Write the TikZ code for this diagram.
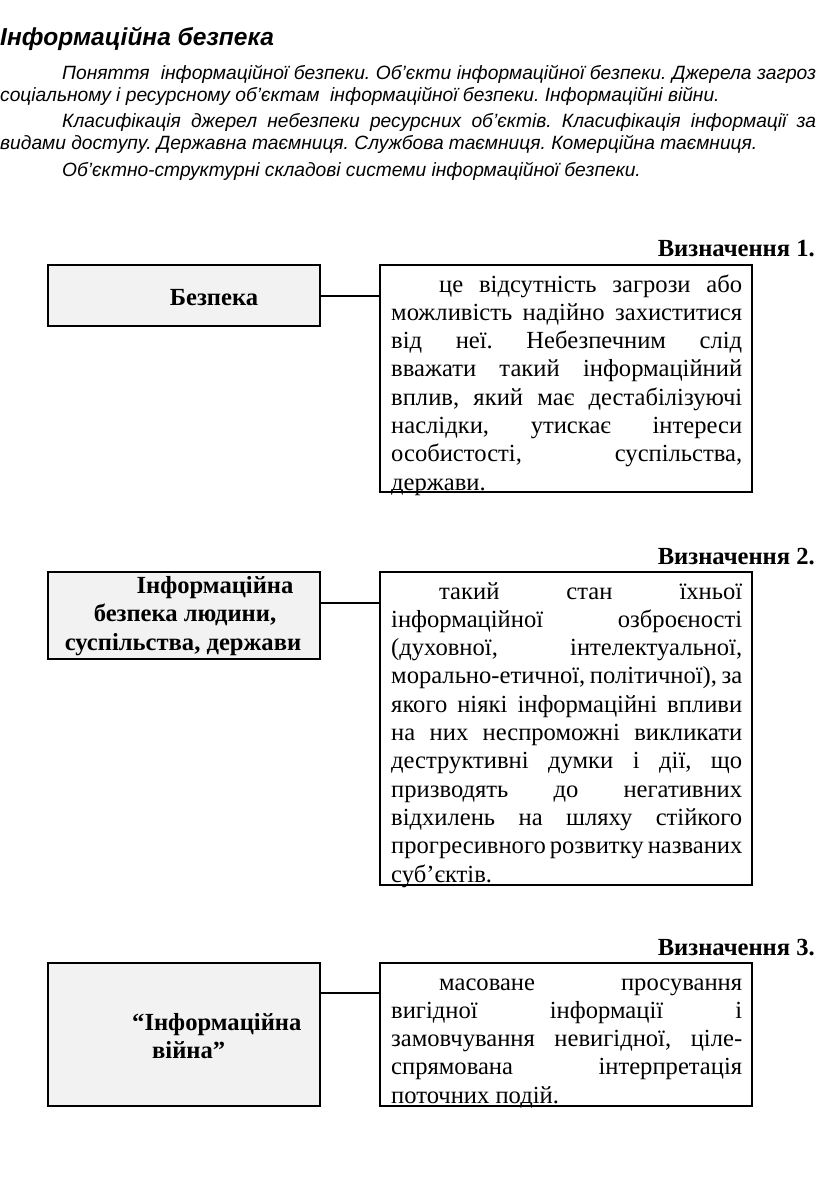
\documentclass[tikz,border=0pt]{standalone}
\usepackage{fontspec}
\setmainfont{Liberation Serif}
\newfontfamily\hdrfont{Liberation Sans}
\definecolor{boxgray}{HTML}{F2F2F2}
\newcommand{\bodyfont}{\fontsize{24.6}{28.3}\selectfont}
\newcommand{\hdrtext}{\hdrfont\itshape\fontsize{19.2}{22}\selectfont}
\newcommand{\jline}[1]{\hbox to 351pt{#1}}
\newcommand{\fline}[1]{\hbox to 351pt{\hskip 48pt #1}}
\frenchspacing
\begin{document}
\frenchspacing
\begin{tikzpicture}[x=1pt,y=-1pt,
  lbox/.style={draw, line width=2pt, fill=boxgray, inner sep=0pt},
  rbox/.style={draw, line width=2pt, fill=white, inner sep=0pt},
  conn/.style={line width=2pt},
  deflabel/.style={anchor=base east, inner sep=0pt, font=\bfseries\fontsize{24.6}{28}\selectfont},
  lefttext/.style={anchor=base, inner sep=0pt, font=\bfseries\fontsize{24.6}{28}\selectfont},
  leftwest/.style={anchor=base west, inner sep=0pt, font=\bfseries\fontsize{24.6}{28}\selectfont},
  para/.style={anchor=base west, inner sep=0pt, font=\bodyfont},
  hline/.style={anchor=base west, inner sep=0pt, font=\hdrtext}]
\useasboundingbox (0,0) rectangle (816,1194);
\clip (0,0) rectangle (816,1194);

% header
\node[anchor=base west, inner sep=0pt, font=\hdrfont\bfseries\itshape\fontsize{24.5}{28}\selectfont] (title) at (0,45) {Інформаційна безпека};
\node[hline] (h1) at (62,79) {\hbox to 754pt{Поняття~ інформаційної безпеки. Об’єкти інформаційної безпеки. Джерела загроз}};
\node[hline] (h2) at (0,101) {соціальному і ресурсному об’єктам~ інформаційної безпеки. Інформаційні війни.};
\node[hline] (h3) at (62,127) {\hbox to 754pt{Класифікація джерел небезпеки ресурсних об’єктів. Класифікація інформації за}};
\node[hline] (h4) at (0,149) {видами доступу. Державна таємниця. Службова таємниця. Комерційна таємниця.};
\node[hline] (h5) at (62,176) {Об’єктно-структурні складові системи інформаційної безпеки.};

% definition 1
\node[deflabel] (d1) at (815,256) {Визначення 1.};
\node[lbox, minimum width=272pt, minimum height=61pt] (b1l) at (184,295.5) {};
\node[rbox, minimum width=372pt, minimum height=227pt] (b1r) at (566,378.5) {};
\node[lefttext] (t1l) at (214,305) {Безпека};
\node[para] (t1r) at (391,292) {\vtop{\baselineskip=28.3pt
\fline{це відсутність загрози або}
\jline{можливість надійно захиститися}
\jline{від неї. Небезпечним слід}
\jline{вважати такий інформаційний}
\jline{вплив, який має дестабілізуючі}
\jline{наслідки, утискає інтереси}
\jline{особистості, суспільства,}
\hbox{держави.}}};
\draw[conn] (b1l.east) -- (b1l.east -| b1r.west);

% definition 2
\node[deflabel] (d2) at (815,564) {Визначення 2.};
\node[lbox, minimum width=272pt, minimum height=87pt] (b2l) at (184,615) {};
\node[rbox, minimum width=372pt, minimum height=313pt] (b2r) at (566,728) {};
\node[lefttext] (t2a) at (215,593) {Інформаційна};
\node[lefttext] (t2b) at (185,621) {безпека людини,};
\node[lefttext] (t2c) at (183,650) {суспільства, держави};
\node[para] (t2r) at (391,599) {\vtop{\baselineskip=28.3pt
\fline{такий стан їхньої}
\jline{інформаційної озброєності}
\jline{(духовної, інтелектуальної,}
\jline{морально-етичної, політичної), за}
\jline{якого ніякі інформаційні впливи}
\jline{на них неспроможні викликати}
\jline{деструктивні думки і дії, що}
\jline{призводять до негативних}
\jline{відхилень на шляху стійкого}
\jline{прогресивного розвитку названих}
\hbox{суб’єктів.}}};
\draw[conn] ([yshift=12pt]b2l.east) -- ([yshift=12pt]b2l.east -| b2r.west);

% definition 3
\node[deflabel] (d3) at (815,955) {Визначення 3.};
\node[lbox, minimum width=272pt, minimum height=143pt] (b3l) at (184,1034.5) {};
\node[rbox, minimum width=372pt, minimum height=143pt] (b3r) at (566,1034.5) {};
\node[leftwest] (t3a) at (132,1030) {“Інформаційна};
\node[leftwest] (t3b) at (152,1058) {війна”};
\node[para] (t3r) at (391,990) {\vtop{\baselineskip=28.3pt
\fline{масоване просування}
\jline{вигідної інформації і}
\jline{замовчування невигідної, ціле-}
\jline{спрямована інтерпретація}
\hbox{поточних подій.}}};
\draw[conn] ([yshift=41.5pt]b3l.east) -- ([yshift=41.5pt]b3l.east -| b3r.west);
\end{tikzpicture}
\end{document}
